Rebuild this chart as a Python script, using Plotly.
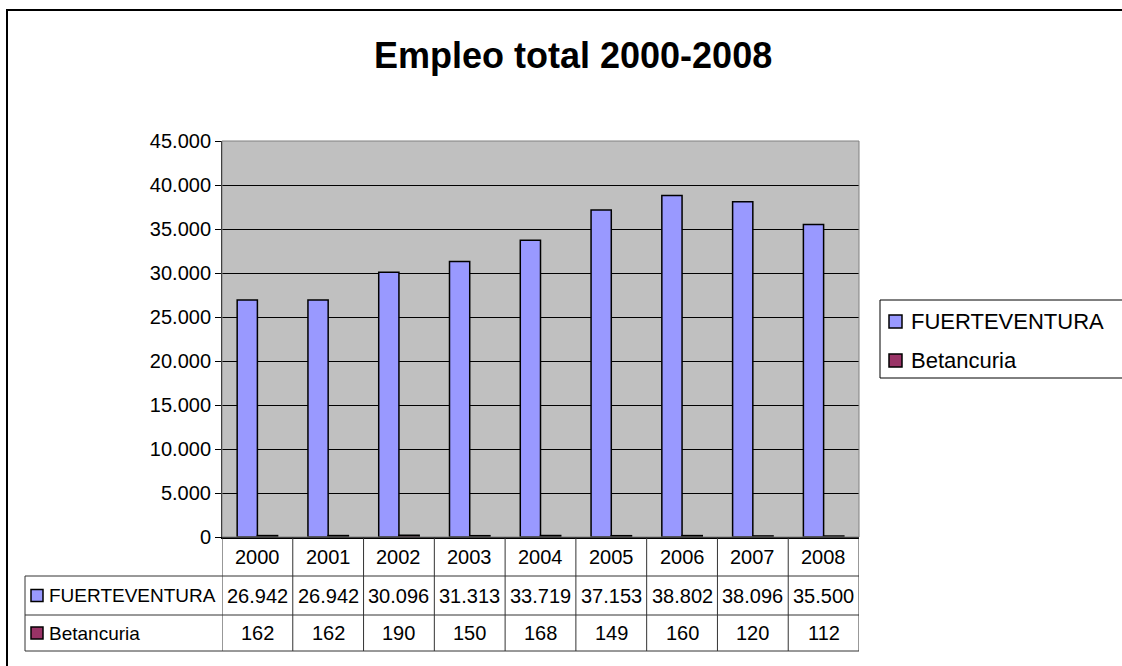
import plotly.graph_objects as go

years = ["2000", "2001", "2002", "2003", "2004", "2005", "2006", "2007", "2008"]
fuerteventura = [26942, 26942, 30096, 31313, 33719, 37153, 38802, 38096, 35500]
betancuria = [162, 162, 190, 150, 168, 149, 160, 120, 112]
series_names = ["FUERTEVENTURA", "Betancuria"]
series_colors = ["#9999FF", "#993366"]
title_text = "Empleo total 2000-2008"

W, H = 1122, 666
PL, PR, PT, PB = 222, 859, 141, 537
FONT = "Liberation Sans, Arial, sans-serif"


def px(x):
    return (x - PL) / (PR - PL)


def py(y):
    return (PB - y) / (PB - PT)


def fmt(v):
    return f"{v:,}".replace(",", ".")


fig = go.Figure()
for name, vals, col in zip(series_names, [fuerteventura, betancuria], series_colors):
    fig.add_trace(go.Bar(
        x=list(range(len(years))), y=vals, name=name,
        marker=dict(color=col, line=dict(color="black", width=1.5)),
        showlegend=False,
    ))

shapes = []
annotations = []

# outer chart border
shapes.append(dict(type="rect", xref="paper", yref="paper",
                   x0=px(7), x1=px(1135), y0=py(10), y1=py(690),
                   line=dict(color="black", width=2), layer="below"))
# plot area border (grey)
shapes.append(dict(type="rect", xref="paper", yref="paper",
                   x0=0, x1=1, y0=0, y1=1,
                   line=dict(color="#808080", width=1)))

# data table
tcol = "#333333"
rows_y = [537, 576, 615, 651]
for yy in rows_y[1:]:
    shapes.append(dict(type="line", xref="paper", yref="paper",
                       x0=px(25), x1=px(PR), y0=py(yy), y1=py(yy),
                       line=dict(color=tcol, width=1)))
shapes.append(dict(type="line", xref="paper", yref="paper",
                   x0=px(25), x1=px(25), y0=py(576), y1=py(651),
                   line=dict(color=tcol, width=1)))
for k in range(len(years) + 1):
    shapes.append(dict(type="line", xref="x", yref="paper",
                       x0=k - 0.5, x1=k - 0.5, y0=py(537), y1=py(651),
                       line=dict(color=tcol, width=1)))

row_centers = [556.5, 595.5, 633]
cell_font = dict(size=20, family=FONT, color="black")
for i, yr in enumerate(years):
    for txt, yc in zip([yr, fmt(fuerteventura[i]), fmt(betancuria[i])], row_centers):
        annotations.append(dict(x=i, y=py(yc), xref="x", yref="paper",
                                xanchor="center", yanchor="middle",
                                text=txt, showarrow=False, font=cell_font))

# row labels with colored keys
for name, col, yc in zip(series_names, series_colors, row_centers[1:]):
    shapes.append(dict(type="rect", xref="paper", yref="paper",
                       x0=px(31), x1=px(43), y0=py(yc - 6), y1=py(yc + 6),
                       fillcolor=col, line=dict(color="black", width=1.5)))
    annotations.append(dict(x=px(47), y=py(yc), xref="paper", yref="paper",
                            text=name, showarrow=False, xanchor="left", yanchor="middle",
                            font=dict(size=19, family=FONT, color="black")))

# legend
shapes.append(dict(type="rect", xref="paper", yref="paper",
                   x0=px(880), x1=px(1140), y0=py(300), y1=py(378),
                   line=dict(color="black", width=1)))
for name, col, yc in zip(series_names, series_colors, [321.5, 360.5]):
    shapes.append(dict(type="rect", xref="paper", yref="paper",
                       x0=px(889), x1=px(902), y0=py(yc - 6.5), y1=py(yc + 6.5),
                       fillcolor=col, line=dict(color="black", width=1.5)))
    annotations.append(dict(x=px(909), y=py(yc), xref="paper", yref="paper",
                            text=name, showarrow=False, xanchor="left", yanchor="middle",
                            font=dict(size=22, family=FONT, color="black")))

# title
annotations.append(dict(x=px(573), y=py(55), xref="paper", yref="paper",
                        xanchor="center", yanchor="middle",
                        text="<b>" + title_text + "</b>", showarrow=False,
                        font=dict(size=36, family=FONT, color="black")))

fig.update_layout(
    width=W, height=H,
    margin=dict(l=PL, r=W - PR, t=PT, b=H - PB, pad=0),
    paper_bgcolor="white", plot_bgcolor="#C0C0C0",
    barmode="group", bargap=0.4286, bargroupgap=0,
    separators=",.",
    shapes=shapes, annotations=annotations,
    showlegend=False,
    font=dict(family=FONT, color="black"),
)
fig.update_xaxes(range=[-0.5, len(years) - 0.5], showticklabels=False,
                 showgrid=False, zeroline=False, showline=True,
                 linecolor="black", linewidth=2, ticks="")
fig.update_yaxes(range=[0, 45000], dtick=5000, tickformat=",d",
                 showgrid=True, gridcolor="black", gridwidth=1,
                 zeroline=False, showline=True, linecolor="black", linewidth=1,
                 ticks="outside", ticklen=6, tickcolor="black",
                 tickfont=dict(size=20, family=FONT, color="black"))

fig.write_html("out.html", config={"displayModeBar": False},
               post_script="document.body.style.margin='0px';")
